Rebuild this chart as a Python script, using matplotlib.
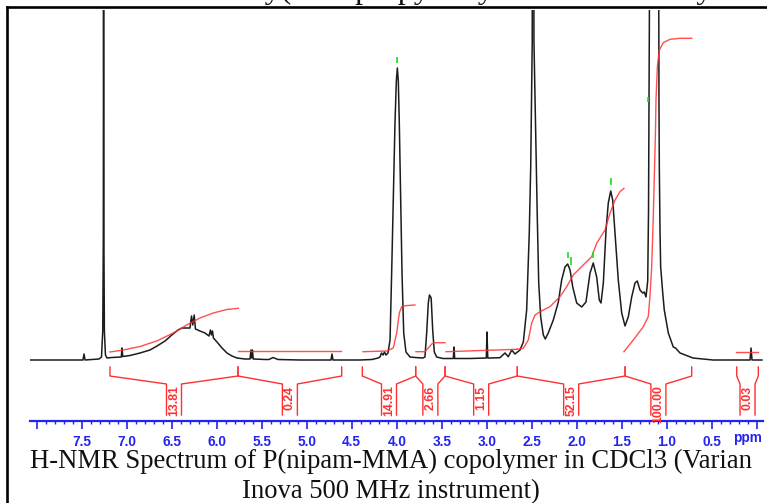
import matplotlib
matplotlib.use("Agg")
import matplotlib.pyplot as plt
from matplotlib.lines import Line2D
from matplotlib.ticker import FixedLocator, FixedFormatter, MultipleLocator

# ---------------- data ----------------
spec_ppm = [8.074, 7.630, 7.486, 7.474, 7.463, 7.308, 7.280, 7.266, 7.260, 7.257,
            7.253, 7.248, 7.236, 7.219, 7.163, 7.074, 7.060, 7.052, 7.044, 6.963,
            6.852, 6.741, 6.663, 6.574, 6.486, 6.430, 6.386, 6.330, 6.297, 6.280,
            6.266, 6.250, 6.236, 6.186, 6.130, 6.086, 6.069, 6.058, 6.047, 6.036,
            5.997, 5.941, 5.886, 5.830, 5.774, 5.686, 5.630, 5.619, 5.611, 5.603,
            5.594, 5.463, 5.419, 5.374, 5.319, 5.074, 4.730, 4.719, 4.708, 4.408,
            4.274, 4.208, 4.186, 4.169, 4.152, 4.136, 4.119, 4.097, 4.074, 4.056,
            4.038, 4.019, 4.004, 3.993, 3.982, 3.971, 3.956, 3.941, 3.922, 3.897,
            3.852, 3.797, 3.708, 3.686, 3.667, 3.649, 3.636, 3.624, 3.617, 3.600,
            3.582, 3.556, 3.486, 3.371, 3.363, 3.356, 3.186, 3.030, 3.004, 2.997,
            2.988, 2.963, 2.852, 2.797, 2.760, 2.722, 2.686, 2.630, 2.593, 2.556,
            2.527, 2.511, 2.494, 2.484, 2.475, 2.452, 2.438, 2.422, 2.400, 2.371,
            2.349, 2.316, 2.260, 2.204, 2.167, 2.130, 2.100, 2.074, 2.044, 2.000,
            1.944, 1.897, 1.852, 1.816, 1.778, 1.749, 1.730, 1.704, 1.674, 1.649,
            1.622, 1.600, 1.574, 1.538, 1.500, 1.463, 1.427, 1.389, 1.352, 1.327,
            1.297, 1.267, 1.249, 1.230, 1.211, 1.202, 1.194, 1.186, 1.141, 1.091,
            1.086, 1.082, 1.074, 1.067, 1.044, 1.027, 0.982, 0.927, 0.902, 0.852,
            0.708, 0.486, 0.074, 0.063, 0.052, -0.059]
spec_int = [1, 1, 1, 7, 1, 2, 4, 30, 120, 420,
            120, 30, 6, 3, 3.5, 4, 4, 13, 4.5, 5.5,
            8, 11, 15, 20, 27, 31, 33, 33, 33, 45,
            36, 46, 32, 30, 28, 25, 31, 26, 30, 23,
            19, 13, 8, 5, 3, 2, 2, 11, 3, 11,
            2, 1.5, 1.5, 3.5, 1.5, 1, 1, 7, 1, 1,
            1.5, 3, 4, 8, 6, 9, 6, 8, 21, 88,
            161, 238, 280, 293, 280, 238, 161, 88, 28, 9,
            4, 3.5, 3, 4, 28, 58, 66, 64, 63, 31,
            9, 4, 2.5, 2.5, 14, 2.5, 2.5, 3, 3, 29,
            3, 3, 3.3, 8, 4.3, 11, 7, 11, 19, 51,
            128, 194, 320, 1500, 320, 211, 144, 78, 44, 26,
            22, 28, 41, 59, 81, 94, 97, 91, 74, 58,
            54, 59, 88, 98, 84, 61, 58, 78, 131, 158,
            170, 161, 128, 81, 48, 35, 44, 64, 78, 80,
            71, 68, 69, 64, 80, 150, 300, 500, 800, 500,
            261, 194, 128, 94, 68, 51, 28, 14, 13, 8,
            3, 1, 1, 13, 1, 1]

# integration regions (ppm, left/right) and integral values
int_left = [7.186, 5.763, 4.382, 3.789, 3.463, 2.660, 1.463, 0.222]
int_right = [5.763, 4.611, 3.789, 3.463, 2.660, 1.463, 0.722, -0.018]
int_values = ["13.81", "0.24", "14.91", "2.66", "1.15", "52.15", "100.00", "0.03"]

# integral curves (ppm, height)
integ_ppm = [
    [7.186, 7.038, 6.852, 6.667, 6.482, 6.333, 6.186, 6.038, 5.889, 5.760],
    [5.760, 4.620],
    [4.374, 4.108, 4.038, 4.000, 3.971, 3.944, 3.908, 3.797],
    [3.786, 3.686, 3.649, 3.611, 3.574, 3.463],
    [3.452, 2.667],
    [2.667, 2.593, 2.538, 2.500, 2.463, 2.408, 2.297, 2.186, 2.111, 2.038,
     1.927, 1.833, 1.778, 1.686, 1.630, 1.574, 1.519, 1.475],
    [1.475, 1.371, 1.260, 1.205, 1.186, 1.167, 1.149, 1.130, 1.125, 1.119,
     1.104, 1.082, 1.038, 0.963, 0.852, 0.722],
    [0.230, -0.015],
]
integ_h = [
    [9, 11, 14.5, 20, 28, 36, 43, 48, 51.5, 52.7],
    [10, 10],
    [9.3, 10, 13, 28, 48, 54.3, 55.3, 56],
    [9.3, 9.3, 13, 17, 18.3, 18.3],
    [9.3, 11.7],
    [11.7, 12.7, 21, 38, 46, 49.3, 54.3, 64.3, 74.3, 86,
     96, 104.3, 117.7, 131, 147.7, 161, 169.3, 172.7],
    [9.3, 21, 34.3, 44.3, 64.3, 94.3, 144.3, 211, 228, 261,
     294.3, 311, 318.3, 321.7, 322.7, 322.7],
    [9.3, 9.3],
]

# peak-pick markers (ppm, bottom, top)
mark_ppm = [3.993, 2.100, 2.063, 1.822, 1.622, 1.208]
mark_lo = [298, 103, 96, 103, 176, 259]
mark_hi = [304, 109, 104, 109, 183, 264]

major_ticks = [8.0, 7.5, 7.0, 6.5, 6.0, 5.5, 5.0, 4.5, 4.0, 3.5, 3.0, 2.5, 2.0, 1.5, 1.0, 0.5, 0.0]
tick_labels = ["", "7.5", "7.0", "6.5", "6.0", "5.5", "5.0", "4.5", "4.0", "3.5",
               "3.0", "2.5", "2.0", "1.5", "1.0", "0.5", ""]

caption1 = "H-NMR Spectrum of P(nipam-MMA) copolymer in CDCl3 (Varian"
caption2 = "Inova 500 MHz instrument)"
top_text = "Poly(n-isopropylacrylamide-co-methyl methacrylate)"

# ---------------- drawing ----------------
W, H = 767, 503
fig = plt.figure(figsize=(W / 100, H / 100), dpi=100)
fig.patch.set_facecolor("white")

def fx(px):
    return px / W

def fy(py):
    return 1 - py / H

ax = fig.add_axes([fx(30), fy(421), (763 - 30) / W, (421 - 10) / H])
ax.set_facecolor("none")
ax.set_xlim(8.0744, -0.070)
ax.set_ylim(-60, 351)

BLUE = "#2323f0"
RED = "#ff3030"

for s in ("top", "left", "right"):
    ax.spines[s].set_visible(False)
ax.spines["bottom"].set_color(BLUE)
ax.spines["bottom"].set_linewidth(1.6)
ax.set_yticks([])
ax.xaxis.set_major_locator(FixedLocator(major_ticks))
ax.xaxis.set_major_formatter(FixedFormatter(tick_labels))
ax.xaxis.set_minor_locator(MultipleLocator(0.1))
ax.tick_params(axis="x", which="major", direction="out", length=5.5, width=1.2,
               color=BLUE, pad=4.5, labelcolor=BLUE)
ax.tick_params(axis="x", which="minor", direction="out", length=2.5, width=1.0, color=BLUE)
for lab in ax.get_xticklabels():
    lab.set_fontfamily("Liberation Sans")
    lab.set_fontweight("bold")
    lab.set_fontsize(9.8)

# spectrum
ax.plot(spec_ppm, spec_int, color="#1c1c1c", lw=1.1, solid_joinstyle="round")

# integral curves
for xs, ys in zip(integ_ppm, integ_h):
    ax.plot(xs, ys, color=RED, lw=1.0, alpha=0.85)

# peak markers
ax.vlines(mark_ppm, mark_lo, mark_hi, color="#19e019", lw=1.2)

# integration brackets
half = 7.5 / 90.0
for a, b, lab in zip(int_left, int_right, int_values):
    mid = (a + b) / 2
    ax.plot([a, a, mid + half, mid + half], [-6, -15, -23, -54], color=RED, lw=1.0)
    ax.plot([mid - half, mid - half, b, b], [-54, -23, -15, -6], color=RED, lw=1.0)
    ax.text(mid, -24.5, lab, rotation=90, ha="center", va="top", color=RED,
            fontsize=8.8, fontweight="bold",
            family=["Liberation Sans Narrow", "Liberation Sans"])

# ppm label
fig.text(fx(747), fy(438), "ppm", ha="center", va="center", color=BLUE,
         fontsize=9.8, fontweight="bold", family="Liberation Sans")

# captions
fig.text(fx(391), fy(468), caption1, ha="center", va="baseline",
         fontsize=19.2, family="Liberation Serif", color="#111111")
fig.text(fx(391), fy(498.5), caption2, ha="center", va="baseline",
         fontsize=19.2, family="Liberation Serif", color="#111111")
fig.text(fx(222), fy(-1.5), top_text, ha="left", va="baseline",
         fontsize=23, family="Liberation Serif", color="#111111")

# frame lines
fig.add_artist(Line2D([fx(7), fx(767)], [fy(7), fy(7)], color="black", lw=1.9))
fig.add_artist(Line2D([fx(7), fx(7)], [fy(7), fy(503)], color="black", lw=1.9))

fig.savefig("out.png", dpi=100)
